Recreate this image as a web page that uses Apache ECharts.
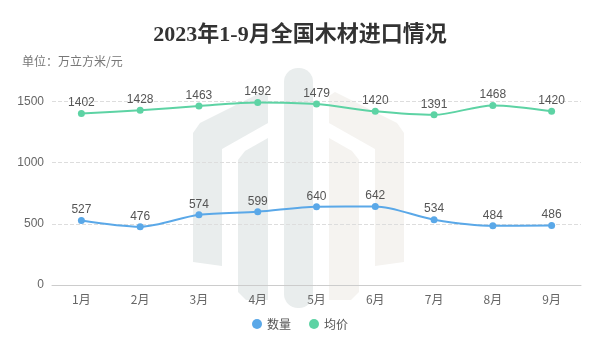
<!DOCTYPE html>
<html>
<head>
<meta charset="utf-8">
<script src="https://cdn.jsdelivr.net/npm/echarts@6/dist/echarts.min.js"></script>
<style>
  html, body { margin: 0; padding: 0; background: #fff; }
  #main { width: 600px; height: 352px; }
</style>
</head>
<body>
<div id="main"></div>
<script>
// 数据
var months = ['1月', '2月', '3月', '4月', '5月', '6月', '7月', '8月', '9月'];
var quantity = [527, 476, 574, 599, 640, 642, 534, 484, 486];
var avgPrice = [1402, 1428, 1463, 1492, 1479, 1420, 1391, 1468, 1420];
var yTicks = [0, 500, 1000, 1500];

var myChart = echarts.init(document.getElementById('main'));

// 背景水印（装饰）
var wmLeft = '#e9eded';
var wmRight = '#f5f3f0';
function mirror(pts) {
  return pts.map(function(p) { return [597 - p[0], p[1]]; });
}
var outerPts = [[193, 262], [193, 133], [200, 123], [262, 92], [268, 96], [268, 123], [222, 149], [222, 266]];
var innerPts = [[238, 292], [238, 160], [245, 151], [268, 138], [268, 300], [246, 300]];

var option = {
  backgroundColor: '#fff',
  color: ['#5aa8e8', '#5dd3a4'],
  title: [{
    text: '2023年1-9月全国木材进口情况',
    left: 'center',
    top: 19,
    textStyle: {
      fontFamily: '"Liberation Serif", "Noto Sans CJK SC"',
      fontSize: 22,
      fontWeight: 'bold',
      color: '#333'
    }
  }, {
    text: '单位：万立方米/元',
    left: 17,
    top: 50,
    textStyle: {
      fontFamily: '"Noto Sans CJK SC"',
      fontSize: 12,
      fontWeight: 'normal',
      color: '#777'
    }
  }],
  graphic: [
    { type: 'polygon', z: -10, shape: { points: outerPts }, style: { fill: wmLeft } },
    { type: 'polygon', z: -10, shape: { points: innerPts }, style: { fill: wmLeft } },
    { type: 'rect', z: -10, shape: { x: 284, y: 68, width: 29, height: 240, r: 14 }, style: { fill: wmLeft } },
    { type: 'polygon', z: -10, shape: { points: mirror(outerPts) }, style: { fill: wmRight } },
    { type: 'polygon', z: -10, shape: { points: mirror(innerPts) }, style: { fill: wmRight } }
  ],
  legend: {
    bottom: 17,
    left: 'center',
    icon: 'circle',
    itemWidth: 10,
    itemHeight: 10,
    itemGap: 18,
    textStyle: { fontSize: 12, color: '#555', fontFamily: '"Noto Sans CJK SC"' },
    data: ['数量', '均价']
  },
  grid: { left: 52, right: 19, top: 101.5, bottom: 67 },
  xAxis: {
    type: 'category',
    data: months,
    axisLine: { lineStyle: { color: '#ccc' } },
    axisTick: { alignWithLabel: true, lineStyle: { color: '#ccc' } },
    axisLabel: { color: '#666', fontSize: 12, margin: 8, fontFamily: '"Noto Sans CJK SC"' }
  },
  yAxis: {
    type: 'value',
    min: yTicks[0],
    max: yTicks[yTicks.length - 1],
    interval: yTicks[1] - yTicks[0],
    axisLine: { show: false },
    axisTick: { show: false },
    axisLabel: { color: '#666', fontSize: 12, margin: 8, formatter: function(v) { return String(v); } },
    splitLine: { lineStyle: { color: '#ddd', type: 'dashed' } }
  },
  series: [{
    name: '数量',
    type: 'line',
    data: quantity,
    smooth: 0.3,
    symbol: 'circle',
    symbolSize: 7,
    lineStyle: { width: 2 },
    label: { show: true, position: 'top', distance: 1, color: '#555', fontSize: 12 }
  }, {
    name: '均价',
    type: 'line',
    data: avgPrice,
    smooth: 0.3,
    symbol: 'circle',
    symbolSize: 7,
    lineStyle: { width: 2 },
    label: { show: true, position: 'top', distance: 1, color: '#555', fontSize: 12 }
  }]
};

myChart.setOption(option);
</script>
</body>
</html>
